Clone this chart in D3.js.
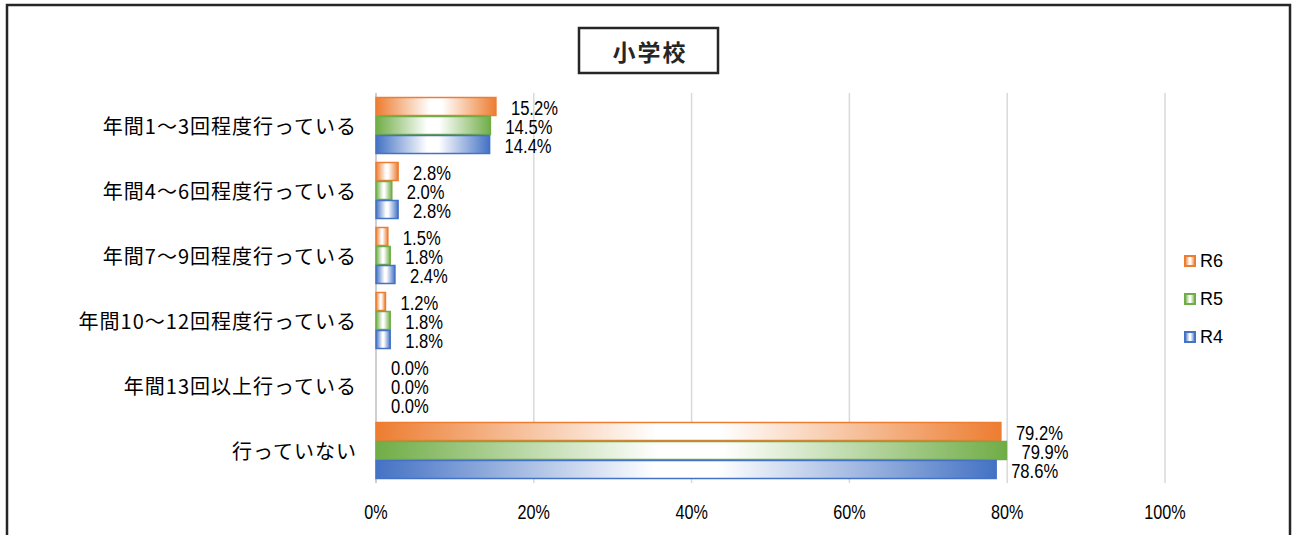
<!DOCTYPE html>
<html>
<head>
<meta charset="utf-8">
<script src="https://cdn.jsdelivr.net/npm/d3@7"></script>
<style>
  body { margin: 0; background: #fff; }
  svg { display: block; }
</style>
</head>
<body>
<div id="chart"></div>
<script>
// chart values
const categories = [
  "年間1～3回程度行っている",
  "年間4～6回程度行っている",
  "年間7～9回程度行っている",
  "年間10～12回程度行っている",
  "年間13回以上行っている",
  "行っていない"
];
const seriesNames = ["R6", "R5", "R4"];
const valuesR6 = [15.2, 2.8, 1.5, 1.2, 0.0, 79.2];
const valuesR5 = [14.5, 2.0, 1.8, 1.8, 0.0, 79.9];
const valuesR4 = [14.4, 2.8, 2.4, 1.8, 0.0, 78.6];
const xTicks = [0, 20, 40, 60, 80, 100];
const titleText = "小学校";

const colors = { R6: "#ED7D31", R5: "#70AD47", R4: "#4472C4" };
const seriesValues = { R6: valuesR6, R5: valuesR5, R4: valuesR4 };

const W = 1293, H = 535;
const latin = "'Liberation Sans', Arial, sans-serif";
const jp = "'Noto Sans CJK JP', 'Noto Sans', sans-serif";
const squeeze = 0.79; // numbers in the reference use a condensed face

const svg = d3.select("#chart").append("svg")
  .attr("width", W).attr("height", H);

// gradients: colour at both ends, white in the middle
const defs = svg.append("defs");
seriesNames.forEach(s => {
  const g = defs.append("linearGradient").attr("id", "grad-" + s)
    .attr("x1", "0%").attr("x2", "100%").attr("y1", "0%").attr("y2", "0%");
  g.append("stop").attr("offset", "0%").attr("stop-color", colors[s]);
  g.append("stop").attr("offset", "45%").attr("stop-color", "#fff");
  g.append("stop").attr("offset", "55%").attr("stop-color", "#fff");
  g.append("stop").attr("offset", "100%").attr("stop-color", colors[s]);
});

// outer frame
svg.append("rect")
  .attr("x", 7).attr("y", 5).attr("width", 1283).attr("height", 600)
  .attr("fill", "none").attr("stroke", "#262626").attr("stroke-width", 2.5);

// title box
svg.append("rect")
  .attr("x", 579).attr("y", 28).attr("width", 139).attr("height", 45)
  .attr("fill", "#fff").attr("stroke", "#262626").attr("stroke-width", 2.5);
svg.append("text")
  .attr("x", 650).attr("y", 51)
  .attr("text-anchor", "middle").attr("dominant-baseline", "central")
  .attr("font-family", jp).attr("font-weight", "bold")
  .attr("font-size", 23).attr("letter-spacing", 2)
  .attr("fill", "#262626")
  .text(titleText);

// scales
const x = d3.scaleLinear().domain([0, 100]).range([376, 1165]);
const y = d3.scaleBand().domain(categories).range([93, 483])
  .paddingInner(8 / 65).paddingOuter(4 / 65);
const ySub = d3.scaleBand().domain(seriesNames).range([0, y.bandwidth()]);

// gridlines
svg.append("g").selectAll("line")
  .data(xTicks)
  .join("line")
  .attr("x1", d => x(d)).attr("x2", d => x(d))
  .attr("y1", 93).attr("y2", 483)
  .attr("stroke", d => d === 0 ? "#bfbfbf" : "#d9d9d9")
  .attr("stroke-width", 1.5);

// x axis tick labels
svg.append("g").selectAll("text")
  .data(xTicks)
  .join("text")
  .attr("transform", d => `translate(${x(d)},512) scale(${squeeze},1)`)
  .attr("text-anchor", "middle").attr("dominant-baseline", "central")
  .attr("font-family", latin).attr("font-size", 20.5)
  .attr("fill", "#000")
  .text(d => d + "%");

// category labels
svg.append("g").selectAll("text")
  .data(categories)
  .join("text")
  .attr("x", 357)
  .attr("y", d => y(d) + y.bandwidth() / 2)
  .attr("text-anchor", "end").attr("dominant-baseline", "central")
  .attr("font-family", jp).attr("font-size", 20).attr("letter-spacing", 1)
  .attr("fill", "#000")
  .text(d => d);

// bars
const rows = [];
categories.forEach((c, i) => {
  seriesNames.forEach(s => rows.push({ cat: c, series: s, value: seriesValues[s][i] }));
});

const barG = svg.append("g");
barG.selectAll("rect")
  .data(rows)
  .join("rect")
  .attr("x", x(0))
  .attr("y", d => y(d.cat) + ySub(d.series) + 0.5)
  .attr("width", d => x(d.value) - x(0))
  .attr("height", ySub.bandwidth() - 1)
  .attr("fill", d => "url(#grad-" + d.series + ")")
  .attr("stroke", d => colors[d.series])
  .attr("stroke-width", 1.5);

// data labels
barG.selectAll("text")
  .data(rows)
  .join("text")
  .attr("transform", d => `translate(${x(d.value) + 15},${y(d.cat) + ySub(d.series) + ySub.bandwidth() / 2 + 1}) scale(${squeeze},1)`)
  .attr("dominant-baseline", "central")
  .attr("font-family", latin).attr("font-size", 21)
  .attr("fill", "#000")
  .text(d => d.value.toFixed(1) + "%");

// legend
const legendY = [261, 299, 337];
const legend = svg.append("g");
seriesNames.forEach((s, i) => {
  legend.append("rect")
    .attr("x", 1185).attr("y", legendY[i] - 5)
    .attr("width", 10).attr("height", 10)
    .attr("fill", "url(#grad-" + s + ")")
    .attr("stroke", colors[s]).attr("stroke-width", 2);
  legend.append("text")
    .attr("x", 1200).attr("y", legendY[i])
    .attr("dominant-baseline", "central")
    .attr("font-family", latin).attr("font-size", 18)
    .attr("fill", "#000")
    .text(s);
});
</script>
</body>
</html>
